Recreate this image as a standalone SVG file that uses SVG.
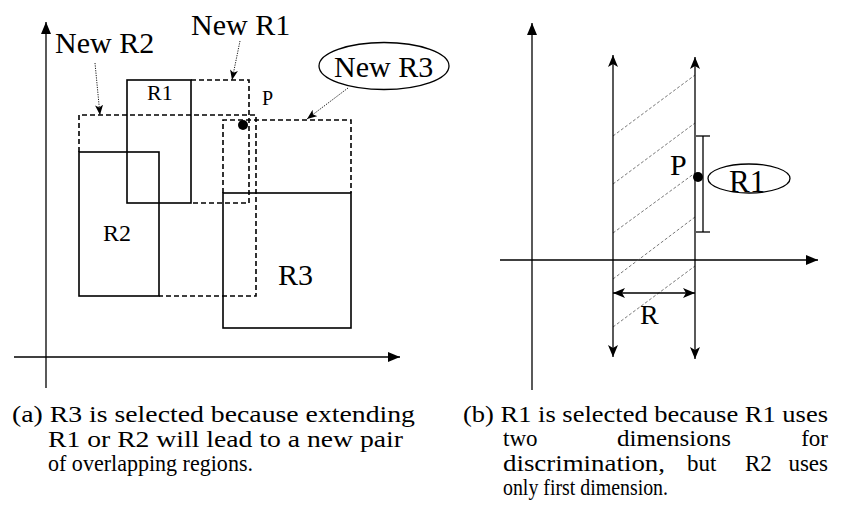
<svg xmlns="http://www.w3.org/2000/svg" width="841" height="517" viewBox="0 0 841 517" font-family="'Liberation Serif', 'Times New Roman', serif">
<style>
.ax{stroke:#000;stroke-width:1.3;fill:none}
.box{stroke:#000;stroke-width:1.6;fill:none}
.dash{stroke:#000;stroke-width:1.6;fill:none;stroke-dasharray:5,3}
.dot{stroke:#000;stroke-width:0.9;fill:none;stroke-dasharray:1.2,1.2}
.hatch{stroke:#555;stroke-width:0.8;fill:none;stroke-dasharray:3,2}
</style>
<defs>
<marker id="tri" viewBox="0 0 12 10" refX="12" refY="5" markerWidth="12" markerHeight="10" orient="auto-start-reverse" markerUnits="userSpaceOnUse"><path d="M0,0 L12,5 L0,10 z" fill="#000"/></marker>
<marker id="notch" viewBox="0 0 12 10" refX="12" refY="5" markerWidth="12" markerHeight="10" orient="auto-start-reverse" markerUnits="userSpaceOnUse"><path d="M0,0 L12,5 L0,10 L3,5 z" fill="#000"/></marker>
<marker id="sm" viewBox="0 0 10 8" refX="10" refY="4" markerWidth="10" markerHeight="8" orient="auto" markerUnits="userSpaceOnUse"><path d="M0,0 L10,4 L0,8 L2.5,4 z" fill="#000"/></marker>
</defs>

<!-- Panel (a) -->
<g id="axes-a">
<line class="ax" x1="46" y1="388" x2="46" y2="22" marker-end="url(#tri)"/>
<line class="ax" x1="14" y1="357" x2="400" y2="357" marker-end="url(#tri)"/>
</g>
<g id="newR1">
<polyline class="dash" points="191,80 249,80 249,203 191,203"/>
<text x="191" y="35" font-size="30">New R1</text>
</g>
<g id="newR2">
<path class="dash" d="M79,152 V115 H256 V296 H159"/>
<text x="55" y="53" font-size="30">New R2</text>
</g>
<g id="newR3">
<path class="dash" d="M223,193 V120 H351 V193"/>
<ellipse cx="384" cy="66" rx="65" ry="23.5" fill="none" stroke="#000" stroke-width="1.3"/>
<text x="334" y="77" font-size="30">New R3</text>
</g>
<g id="R1">
<rect class="box" x="127" y="80" width="64" height="123"/>
<text x="147" y="100" font-size="22">R1</text>
</g>
<g id="R2">
<rect class="box" x="79" y="152" width="80" height="144"/>
<text x="103" y="241" font-size="24">R2</text>
</g>
<g id="R3">
<rect class="box" x="223" y="193" width="128" height="135"/>
<text x="278" y="285" font-size="30">R3</text>
</g>
<g id="P-a">
<circle cx="243" cy="125" r="5" fill="#000"/>
<text x="262" y="105" font-size="20">P</text>
</g>
<g id="connectors-a">
<line class="dot" x1="240" y1="41" x2="232" y2="80" marker-end="url(#sm)"/>
<line class="dot" x1="95" y1="63" x2="100" y2="115" marker-end="url(#sm)"/>
<line class="dot" x1="348" y1="88" x2="307" y2="119" marker-end="url(#sm)"/>
</g>

<!-- Panel (b) -->
<g id="axes-b">
<line class="ax" x1="532" y1="390" x2="532" y2="23" marker-end="url(#tri)"/>
<line class="ax" x1="500" y1="260" x2="818" y2="260" marker-end="url(#tri)"/>
</g>
<g id="band">
<line class="hatch" x1="613" y1="136" x2="695" y2="75"/>
<line class="hatch" x1="613" y1="184" x2="695" y2="123"/>
<line class="hatch" x1="613" y1="233" x2="695" y2="173"/>
<line class="hatch" x1="613" y1="279" x2="695" y2="217"/>
<line class="hatch" x1="613" y1="327" x2="695" y2="266"/>
<line class="ax" x1="613" y1="206" x2="613" y2="55" marker-end="url(#notch)"/>
<line class="ax" x1="613" y1="206" x2="613" y2="357" marker-end="url(#notch)"/>
<line class="ax" x1="695" y1="206" x2="695" y2="57" marker-end="url(#notch)" stroke="#333"/>
<line class="ax" x1="695" y1="206" x2="695" y2="359" marker-end="url(#notch)" stroke="#333"/>
</g>
<g id="R-range">
<line class="ax" x1="613" y1="293" x2="695" y2="293" marker-start="url(#notch)" marker-end="url(#notch)"/>
<text x="640" y="324" font-size="28">R</text>
</g>
<g id="R1-b">
<line class="ax" x1="703" y1="136" x2="703" y2="232"/>
<line class="ax" x1="696" y1="136" x2="710" y2="136"/>
<line class="ax" x1="696" y1="232" x2="710" y2="232"/>
<circle cx="698" cy="177" r="5" fill="#000"/>
<text x="670" y="175" font-size="30">P</text>
<ellipse cx="749" cy="178.5" rx="41" ry="14.5" fill="none" stroke="#000" stroke-width="1.3"/>
<text x="729" y="192" font-size="31">R1</text>
</g>

<!-- Captions -->
<g id="caption-a" font-size="23">
<text x="12" y="422" textLength="403" lengthAdjust="spacingAndGlyphs">(a) R3 is selected because extending</text>
<text x="48" y="447" textLength="355" lengthAdjust="spacingAndGlyphs">R1 or R2 will lead to a new pair</text>
<text x="48" y="471" textLength="205" lengthAdjust="spacingAndGlyphs">of overlapping regions.</text>
</g>
<g id="caption-b" font-size="23">
<text x="463" y="422" textLength="365" lengthAdjust="spacingAndGlyphs">(b) R1 is selected because R1 uses</text>
<text x="503" y="446">two</text>
<text x="617" y="446" textLength="114" lengthAdjust="spacingAndGlyphs">dimensions</text>
<text x="828" y="446" text-anchor="end">for</text>
<text x="503" y="471" textLength="162" lengthAdjust="spacingAndGlyphs">discrimination,</text>
<text x="687" y="471">but</text>
<text x="745" y="471">R2</text>
<text x="828" y="471" text-anchor="end">uses</text>
<text x="503" y="495" textLength="165" lengthAdjust="spacingAndGlyphs">only first dimension.</text>
</g>
</svg>
